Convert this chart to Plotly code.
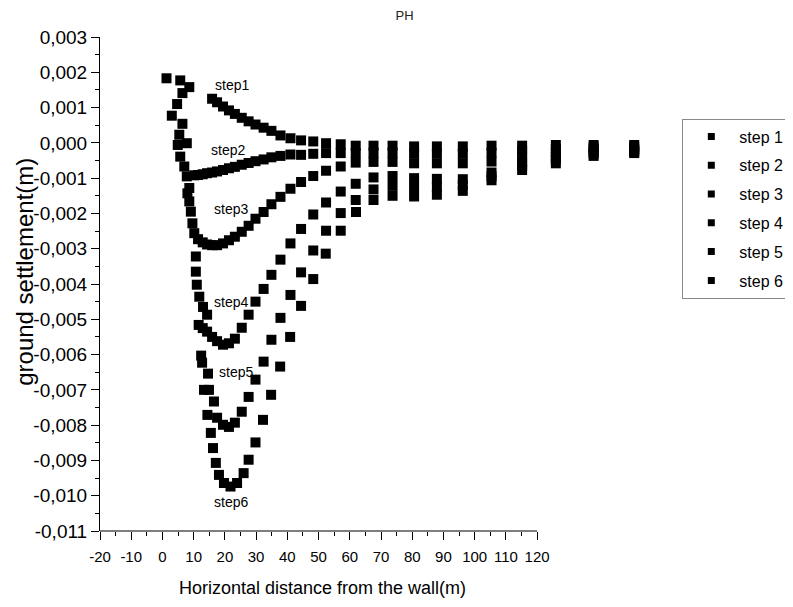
import plotly.graph_objects as go

# ---- data (x in m, settlement in m) ----
x_step1 = [1.3, 5.7, 8.6, 15.9, 17.5, 19.4, 21.3, 23.2, 25.4, 27.6, 29.8, 32.4, 34.9, 37.8, 41.0,
           44.4, 48.3, 52.4, 57.1, 61.9, 67.6, 73.7, 80.6, 87.9, 96.2, 105.4, 115.2, 126.0, 138.1, 151.1]
y_step1 = [0.00183, 0.00177, 0.00158, 0.00125, 0.00115, 0.00103, 0.00092, 0.00082, 0.00071, 0.00061,
           0.00052, 0.00043, 0.00034, 0.00021, 0.00013, 0.00007, 0.00004, -0.00001, -0.00004, -0.00008,
           -0.00008, -0.00008, -0.00010, -0.00010, -0.00010, -0.00008, -0.00008, -0.00006, -0.00006, -0.00006]

x_step2 = [6.4, 4.7, 3.0, 6.4, 5.4, 4.9, 7.8, 5.7, 7.0, 7.8, 10.2, 11.4, 12.9, 14.3, 15.9, 17.5, 19.4,
           21.3, 23.2, 25.4, 27.6, 29.8, 32.4, 34.9, 37.8, 41.0, 44.4, 48.3, 52.4, 57.1, 61.9, 67.6, 73.7,
           80.6, 87.9, 96.2, 105.4, 115.2, 126.0, 138.1, 151.1]
y_step2 = [0.00141, 0.00110, 0.00077, 0.00054, 0.00023, -0.00006, -0.00001, -0.00039, -0.00067, -0.00095,
           -0.00092, -0.00091, -0.00089, -0.00086, -0.00084, -0.00081, -0.00077, -0.00072, -0.00068, -0.00062,
           -0.00057, -0.00052, -0.00047, -0.00041, -0.00037, -0.00033, -0.00034, -0.00031, -0.00029, -0.00029,
           -0.00029, -0.00028, -0.00028, -0.00031, -0.00031, -0.00031, -0.00028, -0.00023, -0.00017, -0.00013,
           -0.00011]

x_step3 = [8.6, 8.0, 8.6, 9.1, 9.6, 10.2, 11.4, 12.9, 14.3, 15.9, 17.5, 19.4, 21.3, 23.2, 25.4, 27.6,
           29.8, 32.4, 34.9, 37.8, 41.0, 44.4, 48.3, 52.4, 57.1, 61.9, 67.6, 73.7, 80.6, 87.9, 96.2, 105.4,
           115.2, 126.0, 138.1, 151.1]
y_step3 = [-0.00128, -0.00143, -0.00166, -0.00195, -0.00228, -0.00256, -0.00273, -0.00282, -0.00288, -0.00290,
           -0.00290, -0.00285, -0.00276, -0.00266, -0.00252, -0.00235, -0.00215, -0.00196, -0.00174, -0.00153,
           -0.00130, -0.00111, -0.00094, -0.00079, -0.00067, -0.00056, -0.00054, -0.00054, -0.00058, -0.00058,
           -0.00058, -0.00053, -0.00037, -0.00028, -0.00018, -0.00017]

x_step4 = [10.7, 10.7, 11.0, 11.8, 13.0, 14.3, 11.6, 12.9, 14.3, 15.9, 17.5, 19.4, 21.3, 23.2, 25.4, 27.6,
           29.8, 32.4, 34.9, 37.8, 41.0, 44.4, 48.3, 52.4, 57.1, 61.9, 67.6, 73.7, 80.6, 87.9, 96.2, 105.4,
           115.2, 126.0, 138.1, 151.1]
y_step4 = [-0.00322, -0.00365, -0.00402, -0.00436, -0.00465, -0.00487, -0.00516, -0.00525, -0.00535, -0.00550,
           -0.00562, -0.00572, -0.00568, -0.00555, -0.00524, -0.00487, -0.00450, -0.00414, -0.00374, -0.00331,
           -0.00285, -0.00244, -0.00203, -0.00169, -0.00138, -0.00116, -0.00098, -0.00094, -0.00100, -0.00102,
           -0.00103, -0.00084, -0.00054, -0.00040, -0.00026, -0.00021]

x_step5 = [12.4, 12.7, 14.6, 13.3, 14.9, 16.5, 17.5, 19.4, 21.3, 23.2, 25.4, 27.6, 29.8, 32.4, 34.9, 37.8,
           41.0, 44.4, 48.3, 52.4, 57.1, 61.9, 67.6, 73.7, 80.6, 87.9, 96.2, 105.4, 115.2, 126.0, 138.1, 151.1]
y_step5 = [-0.00603, -0.00623, -0.00654, -0.00700, -0.00700, -0.00733, -0.00779, -0.00799, -0.00805, -0.00793,
           -0.00762, -0.00720, -0.00671, -0.00620, -0.00558, -0.00496, -0.00431, -0.00367, -0.00305, -0.00249,
           -0.00199, -0.00162, -0.00132, -0.00122, -0.00126, -0.00125, -0.00119, -0.00095, -0.00065, -0.00048,
           -0.00031, -0.00026]

x_step6 = [14.4, 15.5, 16.2, 17.1, 18.1, 19.7, 21.8, 23.9, 26.0, 27.6, 29.8, 32.2, 34.8, 37.7, 40.9, 44.4,
           48.3, 52.3, 57.1, 62.0, 67.6, 73.7, 80.6, 87.9, 96.2, 105.4, 115.2, 126.0, 138.1, 151.1]
y_step6 = [-0.00771, -0.00822, -0.00865, -0.00907, -0.00941, -0.00964, -0.00974, -0.00964, -0.00936, -0.00898,
           -0.00849, -0.00785, -0.00714, -0.00634, -0.00550, -0.00462, -0.00386, -0.00314, -0.00249, -0.00196,
           -0.00162, -0.00150, -0.00152, -0.00147, -0.00136, -0.00106, -0.00077, -0.00058, -0.00037, -0.00029]

series_names = ["step 1", "step 2", "step 3", "step 4", "step 5", "step 6"]
curve_labels = ["step1", "step2", "step3", "step4", "step5", "step6"]
label_x = [22.3, 21.0, 21.8, 21.8, 23.7, 22.1]
label_y = [0.00164, -0.00020, -0.00187, -0.00450, -0.00649, -0.01017]

x_tick_vals = [-20, -10, 0, 10, 20, 30, 40, 50, 60, 70, 80, 90, 100, 110, 120]
x_tick_text = ["-20", "-10", "0", "10", "20", "30", "40", "50", "60", "70", "80", "90", "100", "110", "120"]
x_minor_vals = [-15, -5, 5, 15, 25, 35, 45, 55, 65, 75, 85, 95, 105, 115]
y_tick_vals = [0.003, 0.002, 0.001, 0.0, -0.001, -0.002, -0.003, -0.004, -0.005, -0.006, -0.007,
               -0.008, -0.009, -0.010, -0.011]
y_tick_text = ["0,003", "0,002", "0,001", "0,000", "-0,001", "-0,002", "-0,003", "-0,004", "-0,005",
               "-0,006", "-0,007", "-0,008", "-0,009", "-0,010", "-0,011"]
y_minor_vals = [0.0025, 0.0015, 0.0005, -0.0005, -0.0015, -0.0025, -0.0035, -0.0045, -0.0055, -0.0065,
                -0.0075, -0.0085, -0.0095, -0.0105]

FONT = "Liberation Sans, Arial, sans-serif"

xs = [x_step1, x_step2, x_step3, x_step4, x_step5, x_step6]
ys = [y_step1, y_step2, y_step3, y_step4, y_step5, y_step6]

fig = go.Figure()
for i, (xv, yv) in enumerate(zip(xs, ys)):
    fig.add_trace(go.Scatter(
        x=xv, y=yv, mode="markers", name=series_names[i], showlegend=False,
        marker=dict(symbol="square", size=10, color="black", line=dict(width=0)),
    ))
# legend entries (smaller symbols, as in the reference legend)
for i in range(len(series_names)):
    fig.add_trace(go.Scatter(
        x=[None], y=[None], mode="markers", name=series_names[i], legendgroup=series_names[i],
        marker=dict(symbol="square", size=7, color="black", line=dict(width=0)),
    ))

for t, lx, ly in zip(curve_labels, label_x, label_y):
    fig.add_annotation(x=lx, y=ly, text=t, showarrow=False, xref="x", yref="y",
                       font=dict(family=FONT, size=14, color="black"))

# axis titles
fig.add_annotation(text="Horizontal distance from the wall(m)", xref="paper", yref="paper",
                   x=0.396, y=-0.1154, xanchor="center", yanchor="middle", showarrow=False,
                   font=dict(family=FONT, size=18, color="black"))
fig.add_annotation(text="ground settlement(m)", xref="paper", yref="paper", textangle=-90,
                   x=-0.1356, y=0.524, xanchor="center", yanchor="middle", showarrow=False,
                   font=dict(family=FONT, size=24, color="black"))

# bottom axis line only up to x = 120
fig.add_shape(type="line", xref="x", yref="paper", x0=-20, x1=120, y0=0, y1=0,
              line=dict(color="black", width=1))

fig.update_layout(
    width=793, height=607,
    margin=dict(l=92, r=133, t=29, b=84),
    paper_bgcolor="white", plot_bgcolor="white",
    title=dict(text="PH", x=0.5, xref="container", y=1 - 7 / 607, yanchor="middle",
               font=dict(family=FONT, size=13, color="#222222")),
    showlegend=True,
    legend=dict(x=1.0343, y=0.835, xanchor="left", yanchor="top", itemwidth=46,
                bordercolor="#888888", borderwidth=1, bgcolor="white",
                font=dict(family=FONT, size=16, color="black"), tracegroupgap=5),
    xaxis=dict(range=[-20, 160.32], showgrid=False, zeroline=False, showline=False,
               tickmode="array", tickvals=x_tick_vals, ticktext=x_tick_text,
               ticks="outside", ticklen=8, tickcolor="black", tickwidth=1, ticklabelstandoff=4,
               tickfont=dict(family=FONT, size=15, color="black"),
               minor=dict(tickmode="array", tickvals=x_minor_vals, ticks="outside", ticklen=4,
                          tickcolor="black", tickwidth=1, showgrid=False)),
    yaxis=dict(range=[-0.011, 0.003], showgrid=False, zeroline=False, showline=True,
               linecolor="black", linewidth=1,
               tickmode="array", tickvals=y_tick_vals, ticktext=y_tick_text,
               ticks="outside", ticklen=8, tickcolor="black", tickwidth=1,
               tickfont=dict(family=FONT, size=19, color="black"),
               minor=dict(tickmode="array", tickvals=y_minor_vals, ticks="outside", ticklen=4,
                          tickcolor="black", tickwidth=1, showgrid=False)),
)

fig.write_html("out.html")
